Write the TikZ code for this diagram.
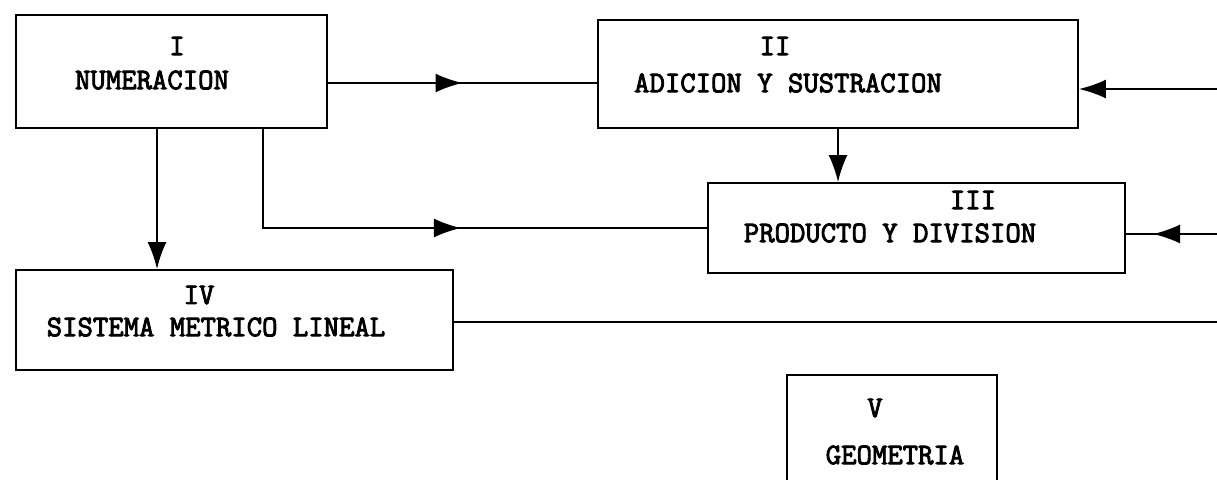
\documentclass[tikz,border=0pt]{standalone}
\usepackage{fontspec}
\newfontfamily\maquina{Latin Modern Mono}[FakeBold=3]
\usetikzlibrary{arrows.meta}
\usetikzlibrary{decorations.markings}

\tikzset{
  >={Latex[length=5.4mm,width=3.8mm]},
  modulo/.style={draw, line width=1.1pt, inner sep=0pt},
  rotulo/.style={font=\maquina\fontsize{17}{20}\selectfont, inner sep=0pt},
  enlace/.style={line width=1.1pt},
  arrowat/.style={postaction={decorate},
    decoration={markings, mark=at position #1 with {\arrow{>}}}}
}

\begin{document}
\begin{tikzpicture}
                \useasboundingbox (0,0) rectangle (24.34,-9.58);
                \clip (0,0) rectangle (24.34,-9.58);

                % Modules
                \node[modulo, minimum width=6.22cm, minimum height=2.26cm] (I) at (3.43,-1.43) {};
                \node[modulo, minimum width=9.6cm, minimum height=2.16cm] (II) at (16.76,-1.48) {};
                \node[modulo, minimum width=8.34cm, minimum height=1.8cm] (III) at (18.33,-4.56) {};
                \node[modulo, minimum width=8.74cm, minimum height=2.0cm] (IV) at (4.69,-6.40) {};
                \node[modulo, minimum width=4.2cm, minimum height=2.4cm] (V) at (17.84,-8.70) {};

                % Labels
                \node[rotulo] (numI) at (3.54,-0.92) {I};
                \node[rotulo] (txtI) at (3.04,-1.60) {NUMERACION};
                \node[rotulo] (numII) at (15.50,-0.92) {II};
                \node[rotulo] (txtII) at (15.76,-1.66) {ADICION Y SUSTRACION};
                \node[rotulo] (numIII) at (19.46,-4.00) {III};
                \node[rotulo] (txtIII) at (17.80,-4.66) {PRODUCTO Y DIVISION};
                \node[rotulo] (numIV) at (3.98,-5.90) {IV};
                \node[rotulo] (txtIV) at (4.32,-6.54) {SISTEMA METRICO LINEAL};
                \node[rotulo] (numV) at (17.50,-8.16) {V};
                \node[rotulo] (txtV) at (17.90,-9.10) {GEOMETRIA};

                % Free ends at the right margin
                \coordinate (inII) at (24.34,-1.78);
                \coordinate (inIII) at (24.34,-4.68);
                \coordinate (outIV) at (24.34,-6.44);

                % Connectors
                \draw[enlace, arrowat=0.5] ([yshift=-0.23cm]I.east) -- ([yshift=-0.23cm]I.east -| II.west);
                \draw[enlace, arrowat=5.94cm] ([xshift=1.83cm]I.south) |- (III.west);
                \draw[enlace, ->] ([xshift=-0.29cm]I.south) -- ([xshift=-0.29cm]I.south |- IV.north);
                \draw[enlace, ->] (II.south) -- (II.south |- III.north);
                \draw[enlace, ->] (inII) -- (inII -| II.east);
                \draw[enlace, arrowat=1.28cm] (inIII) -- (inIII -| III.east);
                \draw[enlace] ([yshift=-0.04cm]IV.east) -- (outIV);
            \end{tikzpicture}
\end{document}
